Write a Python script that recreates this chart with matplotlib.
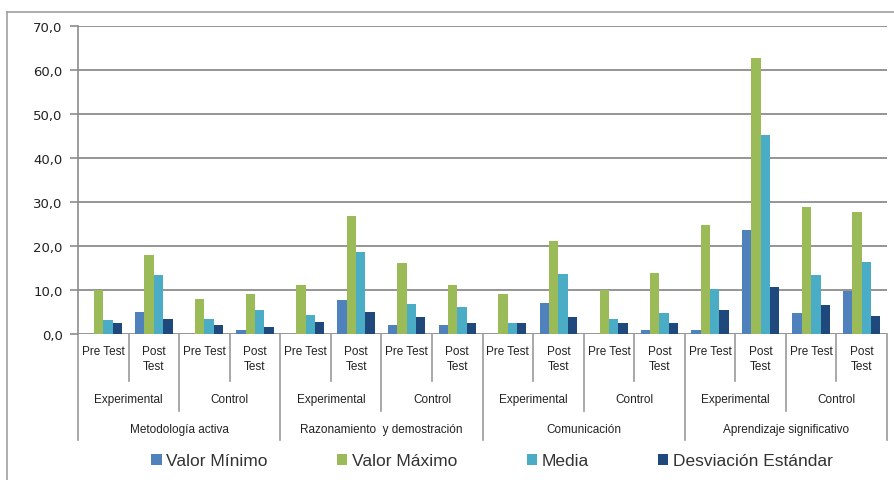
import numpy as np
import matplotlib
matplotlib.use("Agg")
import matplotlib.pyplot as plt
from matplotlib.lines import Line2D
from matplotlib.patches import Patch

plt.rcParams["font.family"] = ["Liberation Sans", "DejaVu Sans"]

# categorias (tres niveles)
tests = ["Pre Test", "Post\nTest"] * 8
grupos = ["Experimental", "Control"] * 4
dimensiones = ["Metodología activa", "Razonamiento  y demostración",
               "Comunicación", "Aprendizaje significativo"]

series = ["Valor Mínimo", "Valor Máximo", "Media", "Desviación Estándar"]
colores = ["#4F81BD", "#9BBB59", "#4BACC6", "#1F497D"]

valor_min = [0.0, 5.0, 0.0, 0.9, 0.0, 7.8, 2.0, 2.0,
             0.0, 7.1, 0.0, 0.8, 0.8, 23.7, 4.8, 9.7]
valor_max = [10.0, 18.0, 7.9, 9.0, 11.1, 26.8, 16.1, 11.1,
             9.0, 21.1, 9.9, 13.8, 24.8, 62.8, 28.8, 27.7]
media = [3.2, 13.3, 3.5, 5.4, 4.4, 18.7, 6.8, 6.1,
         2.5, 13.6, 3.3, 4.8, 10.2, 45.3, 13.5, 16.3]
desv = [2.4, 3.5, 2.0, 1.7, 2.8, 4.9, 3.8, 2.5,
        2.5, 3.8, 2.6, 2.6, 5.4, 10.6, 6.6, 4.1]

W, H = 894, 481
fig = plt.figure(figsize=(W / 100, H / 100), dpi=100)

# marco del grafico (solo arriba e izquierda quedan visibles)
fig.add_artist(Line2D([7 / W, 7 / W], [0, 1 - 13 / H], transform=fig.transFigure,
                      color="#a0a0a0", lw=1.2))
fig.add_artist(Line2D([7 / W, 1], [1 - 13 / H, 1 - 13 / H], transform=fig.transFigure,
                      color="#a0a0a0", lw=1.2))

ax_l, ax_r, ax_b, ax_t = 78, 887, 335, 27
ax = fig.add_axes([ax_l / W, 1 - ax_b / H, (ax_r - ax_l) / W, (ax_b - ax_t) / H])
ax_h = ax_b - ax_t

n = len(tests)
x = np.arange(n) + 0.5
bw = 0.185
for k, (vals, c, lab) in enumerate(zip([valor_min, valor_max, media, desv], colores, series)):
    ax.bar(x + (k - 1.5) * bw, vals, width=bw, color=c, label=lab, zorder=3)

ax.set_xlim(0, n)
ax.set_ylim(0, 70)
ax.set_yticks(np.arange(0, 71, 10))
ax.set_yticklabels([f"{v:.1f}".replace(".", ",") for v in np.arange(0, 71, 10)],
                   family="DejaVu Sans")
ax.tick_params(axis="y", length=6, width=1.2, color="#8c8c8c", pad=5,
               labelsize=9.5, labelcolor="#222222")
ax.set_xticks([])
ax.grid(axis="y", color="#8c8c8c", lw=1.3, zorder=0)
for s in ["top", "right", "bottom"]:
    ax.spines[s].set_visible(False)
ax.spines["left"].set_color("#8c8c8c")
ax.spines["left"].set_linewidth(1.2)

tr = ax.get_xaxis_transform()


def py(px):
    # pixeles por debajo del eje x -> fraccion de ejes
    return -px / ax_h


sep_kw = dict(transform=tr, color="#9a9a9a", lw=1.2, clip_on=False)
lab_kw = dict(transform=tr, ha="center", fontsize=8.5, color="#222222", clip_on=False)

# nivel 1: Pre / Post
for i in range(n):
    ax.text(x[i], py(11), tests[i], va="top", linespacing=1.3, **lab_kw)
for i in range(1, n):
    if i % 4 == 0:
        ax.plot([i, i], [py(0), py(106)], **sep_kw)
    elif i % 2 == 0:
        ax.plot([i, i], [py(0), py(77)], **sep_kw)
    else:
        ax.plot([i, i], [py(0), py(47)], **sep_kw)
ax.plot([0, 0], [py(0), py(106)], **sep_kw)
ax.plot([n, n], [py(0), py(106)], **sep_kw)

# nivel 2: Experimental / Control
for j, g in enumerate(grupos):
    ax.text(2 * j + 1, py(65), g, va="center", **lab_kw)

# nivel 3: dimensiones
for j, d in enumerate(dimensiones):
    ax.text(4 * j + 2, py(95), d, va="center", **lab_kw)

handles = [Patch(facecolor=c, label=s) for c, s in zip(colores, series)]
fig.legend(handles=handles, loc="center", bbox_to_anchor=(492 / W, 1 - 462 / H),
           ncol=4, frameon=False, fontsize=12.5, handlelength=0.6, handleheight=0.6,
           handletextpad=0.25, columnspacing=4.0, labelcolor="#333333")

fig.savefig("out.png", dpi=100)
